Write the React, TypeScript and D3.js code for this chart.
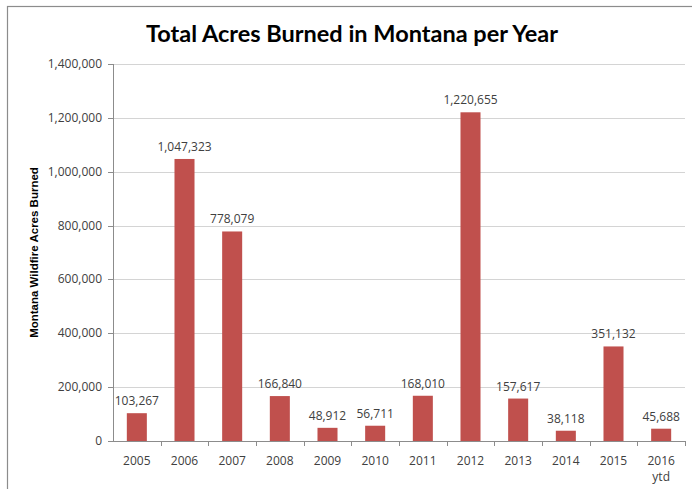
import React from "react";
import * as d3 from "d3";

const years = ["2005", "2006", "2007", "2008", "2009", "2010", "2011", "2012", "2013", "2014", "2015", "2016"];
const yearSub = ["", "", "", "", "", "", "", "", "", "", "", "ytd"];
const acres = [103267, 1047323, 778079, 166840, 48912, 56711, 168010, 1220655, 157617, 38118, 351132, 45688];
const yTicks = [0, 200000, 400000, 600000, 800000, 1000000, 1200000, 1400000];
const title = "Total Acres Burned in Montana per Year";
const yTitle = "Montana Wildfire Acres Burned";

export default function App() {
  const W = 692, H = 489;
  const left = 113, right = 685, top = 64, bottom = 441;
  const x = d3.scaleBand<string>().domain(years).range([left, right]).paddingInner(0.58).paddingOuter(0.29);
  const xb = d3.scaleBand<string>().domain(years).range([left, right]);
  const y = d3.scaleLinear().domain([0, 1400000]).range([bottom, top]);
  const fmt = d3.format(",");
  const tickFont = "'Open Sans', sans-serif";
  const txt = "#404040";
  return (
    <svg width={W} height={H} style={{ position: "absolute", left: 0, top: 0, background: "#fff" }}>
      <rect x={7.5} y={6.5} width={720} height={520} fill="#fff" stroke="#8c8c8c" strokeWidth={1.2} />
      <text x={352} y={42} textAnchor="middle" fontFamily="Lato, sans-serif" fontWeight="bold" fontSize={23.5} fill="#000">
        {title}
      </text>
      {yTicks.map((t) => (
        <g key={t}>
          {t > 0 && <line x1={left} x2={right} y1={Math.round(y(t)) + 0.5} y2={Math.round(y(t)) + 0.5} stroke="#d4d4d4" strokeWidth={1} />}
          <line x1={left - 5} x2={left} y1={Math.round(y(t)) + 0.5} y2={Math.round(y(t)) + 0.5} stroke="#8c8c8c" />
          <text x={102} y={y(t) + 4} textAnchor="end" fontFamily={tickFont} fontSize={12} fill={txt}>
            {fmt(t)}
          </text>
        </g>
      ))}
      <line x1={left + 0.5} x2={left + 0.5} y1={top} y2={bottom} stroke="#8c8c8c" />
      {acres.map((v, i) => {
        const yr = years[i];
        const bx = x(yr)!;
        const cx = bx + x.bandwidth() / 2;
        return (
          <g key={yr}>
            <rect x={bx} y={y(v)} width={x.bandwidth()} height={bottom - y(v)} fill="#c0504d" />
            <text x={cx} y={y(v) - 8} textAnchor="middle" fontFamily={tickFont} fontSize={12} fill={txt}>
              {fmt(v)}
            </text>
            <text x={xb(yr)! + xb.bandwidth() / 2} y={465} textAnchor="middle" fontFamily={tickFont} fontSize={12} fill={txt}>
              {yr}
            </text>
            {yearSub[i] && (
              <text x={xb(yr)! + xb.bandwidth() / 2} y={481} textAnchor="middle" fontFamily={tickFont} fontSize={12} fill={txt}>
                {yearSub[i]}
              </text>
            )}
          </g>
        );
      })}
      <line x1={left} x2={right} y1={bottom + 0.5} y2={bottom + 0.5} stroke="#8c8c8c" />
      {years.map((yr) => (
        <line key={yr} x1={Math.round(xb(yr)! + xb.bandwidth()) + 0.5} x2={Math.round(xb(yr)! + xb.bandwidth()) + 0.5} y1={bottom} y2={bottom + 5} stroke="#8c8c8c" />
      ))}
      <text
        transform={`translate(38,${(top + bottom) / 2}) rotate(-90)`}
        textAnchor="middle"
        fontFamily="'Liberation Sans', Arial, sans-serif"
        fontWeight="bold"
        fontSize={11.5}
        fill="#000"
      >
        {yTitle}
      </text>
    </svg>
  );
}
